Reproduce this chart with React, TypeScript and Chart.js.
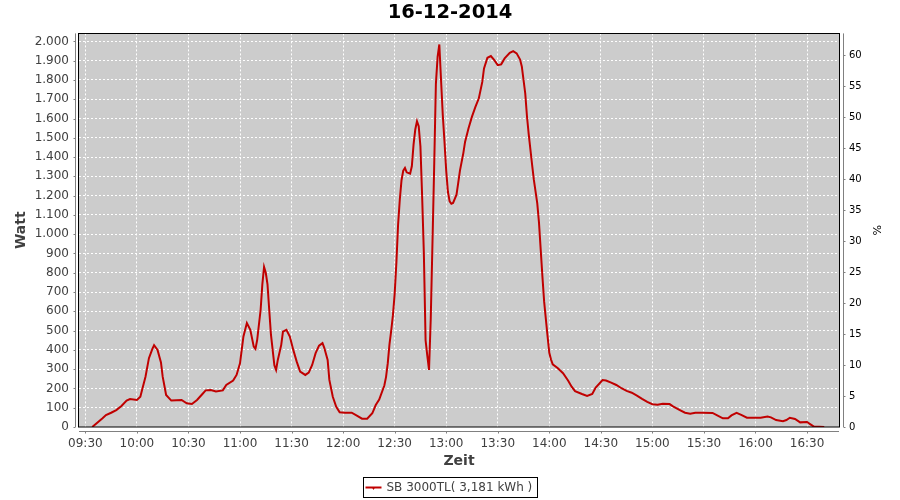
import { useEffect, useRef } from "react";
import { Chart, registerables } from "chart.js";

Chart.register(...registerables);

const chartTitle = "16-12-2014";
const seriesLabel = "SB 3000TL( 3,181 kWh )";
const xAxisTitle = "Zeit";
const yAxisTitle = "Watt";
const y2AxisTitle = "%";

const timeTicks = ["09:30", "10:00", "10:30", "11:00", "11:30", "12:00", "12:30", "13:00", "13:30", "14:00", "14:30", "15:00", "15:30", "16:00", "16:30"];
const wattTicks = [0, 100, 200, 300, 400, 500, 600, 700, 800, 900, 1000, 1100, 1200, 1300, 1400, 1500, 1600, 1700, 1800, 1900, 2000];
const percentTicks = [0, 5, 10, 15, 20, 25, 30, 35, 40, 45, 50, 55, 60];

const times = [
  "09:34", "09:40", "09:42", "09:45", "09:48", "09:51", "09:54", "09:56", "10:00", "10:02",
  "10:03", "10:05", "10:07", "10:09", "10:10", "10:12", "10:14", "10:15", "10:17", "10:20",
  "10:23", "10:26", "10:29", "10:32", "10:35", "10:38", "10:40", "10:43", "10:46", "10:50",
  "10:52", "10:56", "10:58", "11:00", "11:01", "11:02", "11:04", "11:06", "11:08", "11:09",
  "11:10", "11:12", "11:13", "11:14", "11:15", "11:16", "11:17", "11:18", "11:20", "11:21",
  "11:22", "11:24", "11:25", "11:27", "11:29", "11:31", "11:33", "11:35", "11:38", "11:40",
  "11:42", "11:44", "11:46", "11:48", "11:49", "11:51", "11:52", "11:54", "11:56", "11:58",
  "12:01", "12:05", "12:08", "12:11", "12:14", "12:17", "12:19", "12:21", "12:24", "12:25",
  "12:26", "12:27", "12:28", "12:29", "12:30", "12:31", "12:32", "12:33", "12:34", "12:35",
  "12:36", "12:37", "12:39", "12:40", "12:41", "12:42", "12:43", "12:44", "12:45", "12:46",
  "12:47", "12:48", "12:49", "12:50", "12:51", "12:52", "12:53", "12:54", "12:55", "12:56",
  "12:57", "12:58", "12:59", "13:00", "13:01", "13:02", "13:03", "13:04", "13:06", "13:07",
  "13:08", "13:10", "13:11", "13:13", "13:15", "13:17", "13:19", "13:21", "13:22", "13:24",
  "13:26", "13:28", "13:30", "13:32", "13:34", "13:37", "13:39", "13:41", "13:43", "13:44",
  "13:46", "13:47", "13:48", "13:50", "13:51", "13:53", "13:54", "13:55", "13:56", "13:57",
  "13:58", "13:59", "14:00", "14:01", "14:02", "14:05", "14:08", "14:11", "14:13", "14:15",
  "14:19", "14:22", "14:25", "14:27", "14:31", "14:33", "14:36", "14:39", "14:42", "14:45",
  "14:48", "14:51", "14:54", "14:57", "15:00", "15:03", "15:06", "15:10", "15:12", "15:16",
  "15:19", "15:22", "15:25", "15:29", "15:35", "15:38", "15:41", "15:44", "15:46", "15:49",
  "15:52", "15:55", "15:58", "16:03", "16:07", "16:09", "16:12", "16:16", "16:18", "16:20",
  "16:23", "16:26", "16:30", "16:32", "16:34", "16:40",
];

const watts = [
  0, 45, 62, 74, 88, 109, 137, 145, 140, 157,
  192, 261, 357, 405, 424, 400, 335, 261, 166, 137,
  139, 140, 123, 119, 140, 170, 190, 192, 184, 190,
  218, 241, 270, 330, 400, 470, 539, 504, 417, 405,
  452, 608, 740, 830, 800, 740, 608, 480, 320, 296,
  348, 426, 495, 504, 469, 400, 339, 287, 270, 282,
  322, 383, 422, 435, 412, 348, 244, 157, 105, 76,
  74, 74, 59, 43, 43, 71, 114, 142, 215, 260,
  331, 430, 500, 580, 690, 850, 1050, 1180, 1280, 1330,
  1344, 1321, 1314, 1352, 1465, 1543, 1586, 1560, 1456, 1196,
  900, 450, 370, 296, 560, 950, 1350, 1780, 1920, 1984,
  1800, 1620, 1480, 1330, 1220, 1170, 1158, 1162, 1205, 1266,
  1330, 1422, 1480, 1550, 1610, 1660, 1705, 1790, 1860, 1915,
  1924, 1903, 1877, 1881, 1912, 1941, 1950, 1938, 1906, 1870,
  1730, 1612, 1520, 1360, 1283, 1160, 1060, 920, 780, 650,
  560, 470, 385, 350, 325, 305, 279, 240, 209, 186,
  171, 161, 171, 205, 244, 241, 230, 218, 201, 187,
  178, 163, 146, 130, 118, 116, 121, 119, 107, 88,
  74, 69, 74, 74, 73, 59, 45, 45, 60, 73,
  62, 48, 48, 48, 54, 50, 36, 30, 36, 48,
  42, 24, 26, 14, 2, 0,
];

const toMin = (s: string) => {
  const [h, m] = s.split(":").map(Number);
  return h * 60 + m;
};
const fmtTime = (v: number) => {
  const h = Math.floor(v / 60);
  const m = Math.round(v - h * 60);
  return String(h).padStart(2, "0") + ":" + String(m).padStart(2, "0");
};
const fmtWatt = (v: number) => {
  const s = String(Math.round(v));
  return s.length > 3 ? s.slice(0, s.length - 3) + "." + s.slice(-3) : s;
};

const FONT = "DejaVu Sans";
const LINE_COLOR = "#c00000";
const TEXT_GRAY = "#404040";

const framePlugin = {
  id: "frame",
  beforeDraw(chart: any) {
    const { ctx, chartArea: a } = chart;
    ctx.save();
    ctx.fillStyle = "#cccccc";
    ctx.fillRect(a.left, a.top, a.right - a.left, a.bottom - a.top);
    ctx.restore();
  },
  afterDraw(chart: any) {
    const { ctx, chartArea: a, scales } = chart;
    ctx.save();
    // plot outline
    ctx.strokeStyle = "#000";
    ctx.lineWidth = 1;
    ctx.strokeRect(Math.round(a.left) - 0.5, Math.round(a.top) + 0.5, Math.round(a.right - a.left) + 1, Math.round(a.bottom - a.top) - 0.5);
    // axis lines offset from plot
    ctx.strokeStyle = "#808080";
    const lx = Math.round(a.left) - 3.5;
    const rx = Math.round(a.right) + 4.5;
    const by = Math.round(a.bottom) + 4.5;
    ctx.beginPath();
    ctx.moveTo(lx, a.top);
    ctx.lineTo(lx, a.bottom);
    ctx.moveTo(rx, a.top);
    ctx.lineTo(rx, a.bottom);
    ctx.moveTo(a.left, by);
    ctx.lineTo(a.right, by);
    for (const t of scales.y.ticks) {
      const y = Math.round(scales.y.getPixelForValue(t.value)) + 0.5;
      ctx.moveTo(lx, y);
      ctx.lineTo(lx - 2, y);
    }
    for (const t of scales.y2.ticks) {
      const y = Math.round(scales.y2.getPixelForValue(t.value)) + 0.5;
      ctx.moveTo(rx, y);
      ctx.lineTo(rx + 2, y);
    }
    for (const t of scales.x.ticks) {
      const x = Math.round(scales.x.getPixelForValue(t.value)) + 0.5;
      ctx.moveTo(x, by);
      ctx.lineTo(x, by + 2);
    }
    ctx.stroke();

    // legend box
    ctx.font = `12px "${FONT}"`;
    const tw = ctx.measureText(seriesLabel).width;
    const w = Math.round(2 + 16 + 5 + tw + 5);
    const h = 20;
    const bx = Math.round(chart.width / 2 - w / 2) + 0.5;
    const byL = 477.5;
    ctx.strokeStyle = "#000";
    ctx.strokeRect(bx, byL, w, h);
    const cy = byL + h / 2;
    ctx.strokeStyle = LINE_COLOR;
    ctx.lineWidth = 2;
    ctx.beginPath();
    ctx.moveTo(bx + 2, cy);
    ctx.lineTo(bx + 18, cy);
    ctx.stroke();
    ctx.fillStyle = LINE_COLOR;
    ctx.beginPath();
    ctx.moveTo(bx + 8.5, cy);
    ctx.lineTo(bx + 11.5, cy);
    ctx.lineTo(bx + 10, cy + 2.5);
    ctx.closePath();
    ctx.fill();
    ctx.fillStyle = TEXT_GRAY;
    ctx.textBaseline = "middle";
    ctx.textAlign = "left";
    ctx.fillText(seriesLabel, bx + 23, cy + 0.5);
    ctx.restore();
  },
};

export default function App() {
  const ref = useRef<HTMLCanvasElement | null>(null);

  useEffect(() => {
    if (!ref.current) return;
    Chart.defaults.font.family = FONT;
    const points = times.map((t, i) => ({ x: toMin(t), y: watts[i] }));
    const timeTickValues = timeTicks.map(toMin);

    const chart = new Chart(ref.current, {
      type: "line",
      data: {
        datasets: [
          {
            label: seriesLabel,
            data: points,
            borderColor: LINE_COLOR,
            backgroundColor: LINE_COLOR,
            borderWidth: 2,
            pointRadius: 0,
            tension: 0,
            fill: false,
            yAxisID: "y",
            xAxisID: "x",
          },
        ],
      },
      options: {
        animation: false,
        responsive: false,
        events: [],
        layout: { padding: { left: 0, right: 0, top: 0, bottom: 28 } },
        plugins: {
          legend: { display: false },
          tooltip: { enabled: false },
          title: {
            display: true,
            text: chartTitle,
            color: "#000",
            font: { family: FONT, size: 19.5, weight: "bold", lineHeight: 1.2 },
            padding: { top: 1, bottom: 9 },
          },
        },
        scales: {
          x: {
            type: "linear",
            position: "bottom",
            min: 566.3,
            max: 1008.6,
            afterBuildTicks: (s: any) => {
              s.ticks = timeTickValues.map((v) => ({ value: v }));
            },
            afterFit: (s: any) => {
              s.height = 45;
            },
            ticks: {
              autoSkip: false,
              maxRotation: 0,
              padding: 10,
              color: TEXT_GRAY,
              font: { family: FONT, size: 12 },
              callback: (v: any) => fmtTime(Number(v)),
            },
            grid: { color: "#ffffff", lineWidth: 1, drawTicks: false },
            border: { display: false, dash: [2, 2] },
            title: {
              display: true,
              text: xAxisTitle,
              color: TEXT_GRAY,
              font: { family: FONT, size: 14, weight: "bold" },
              padding: { top: 0, bottom: 2 },
            },
          },
          y: {
            type: "linear",
            position: "left",
            min: 0,
            max: 2041.6,
            afterBuildTicks: (s: any) => {
              s.ticks = wattTicks.map((v) => ({ value: v }));
            },
            afterFit: (s: any) => {
              s.width = 79;
            },
            ticks: {
              padding: 10,
              color: TEXT_GRAY,
              font: { family: FONT, size: 12 },
              callback: (v: any) => fmtWatt(Number(v)),
            },
            grid: { color: "#ffffff", lineWidth: 1, drawTicks: false },
            border: { display: false, dash: [2, 2] },
            title: {
              display: true,
              text: yAxisTitle,
              color: TEXT_GRAY,
              font: { family: FONT, size: 14, weight: "bold" },
              padding: { top: 13, bottom: 0 },
            },
          },
          y2: {
            type: "linear",
            position: "right",
            min: 0,
            max: 63.5,
            afterBuildTicks: (s: any) => {
              s.ticks = percentTicks.map((v) => ({ value: v }));
            },
            afterFit: (s: any) => {
              s.width = 61;
            },
            ticks: {
              padding: 10,
              color: "#000",
              font: { family: FONT, size: 10 },
            },
            grid: { drawOnChartArea: false, drawTicks: false },
            border: { display: false },
            title: {
              display: true,
              text: y2AxisTitle,
              color: "#000",
              font: { family: FONT, size: 11 },
              padding: { top: 18, bottom: 0 },
            },
          },
        },
      },
      plugins: [framePlugin],
    });
    return () => chart.destroy();
  }, []);

  return (
    <div style={{ position: "absolute", left: 0, top: 0, width: 900, height: 500, background: "#fff" }}>
      <canvas ref={ref} width={900} height={500} style={{ display: "block", width: 900, height: 500 }} />
    </div>
  );
}
